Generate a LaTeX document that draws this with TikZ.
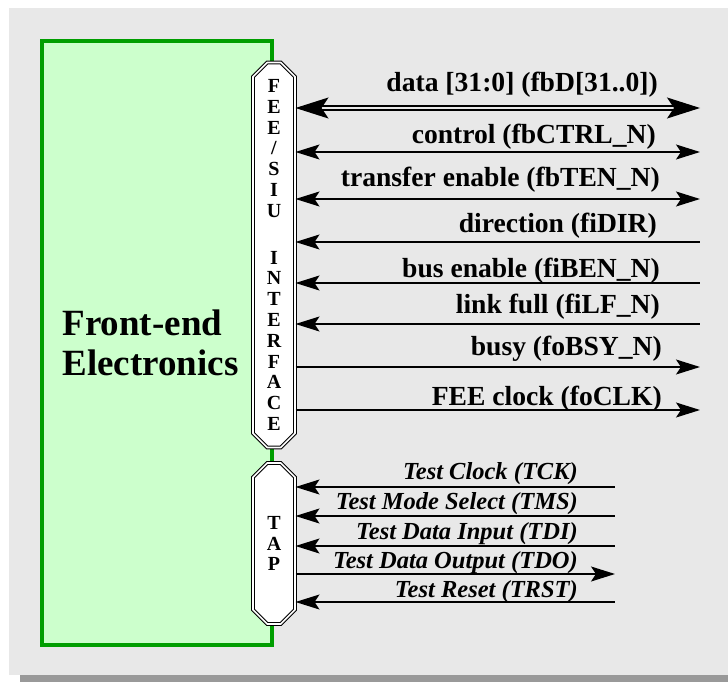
\documentclass[tikz,border=0pt]{standalone}
\usepackage{fontspec}
\setmainfont{Liberation Serif}
\usetikzlibrary{arrows.meta,shapes.misc}
\definecolor{bg}{HTML}{E8E8E8}
\definecolor{shadowc}{HTML}{999999}
\definecolor{feegreen}{HTML}{009E00}
\definecolor{feefill}{HTML}{CCFFCC}
\tikzset{
  ltip/.tip={Stealth[length=24pt,width=15pt,inset=5pt]},
  dtip/.tip={Stealth[length=33pt,width=21pt,inset=7pt]}
}
\begin{document}
\begin{tikzpicture}[x=1pt,y=-1pt,
  febox/.style={draw=feegreen, line width=3.5pt, fill=feefill, minimum width=230pt,
    minimum height=604pt, inner sep=0pt, text width=189pt, align=left,
    font=\fontsize{37}{40}\selectfont\bfseries},
  ifbox/.style={chamfered rectangle, chamfered rectangle xsep=7pt, chamfered rectangle ysep=8pt,
    draw, double=white, double distance=1.6pt, line width=1pt, fill=white,
    minimum width=42pt, inner sep=0pt, align=center,
    font=\fontsize{20}{20.8}\selectfont\bfseries},
  sig/.style={line width=1.3pt, draw=black},
  dsig/.style={line width=1.2pt, draw=black, double=bg, double distance=2.8pt},
  lbl/.style={inner sep=0pt, anchor=base east, font=\fontsize{27.6}{30}\selectfont\bfseries},
  tlbl/.style={inner sep=0pt, anchor=base east, font=\fontsize{24.5}{26}\selectfont\bfseries\itshape}
]
\useasboundingbox (0,0) rectangle (728,682);
\fill[shadowc] (20,15) rectangle (728,682);
\fill[bg] (9,8) rectangle (728,675);

\node[febox] (fe) at (157,343) {Front-end\\Electronics};

\node[ifbox, minimum height=385pt] (fee) at (274,255)
  {F\\E\\E\\/\\S\\I\\U\\[26pt]I\\N\\T\\E\\R\\F\\A\\C\\E};
\node[ifbox, minimum height=161pt] (tap) at (274,543.5) {T\\A\\P};

% main interface signals
\coordinate (dR) at (700,108);
\coordinate (cR) at (700,152);
\coordinate (tR) at (700,199);
\coordinate (dirR) at (700,242);
\coordinate (bR) at (700,283);
\coordinate (lR) at (700,324);
\coordinate (bsR) at (700,367);
\coordinate (ckR) at (700,410);

\draw[dsig, dtip-dtip] (fee.east |- dR) -- (dR);
\draw[sig, ltip-ltip] (fee.east |- cR) -- (cR);
\draw[sig, ltip-ltip] (fee.east |- tR) -- (tR);
\draw[sig, ltip-] (fee.east |- dirR) -- (dirR);
\draw[sig, ltip-] (fee.east |- bR) -- (bR);
\draw[sig, ltip-] (fee.east |- lR) -- (lR);
\draw[sig, -ltip] (fee.east |- bsR) -- (bsR);
\draw[sig, -ltip] (fee.east |- ckR) -- (ckR);

\node[lbl] (ldata) at (658,92) {data [31:0] (fbD[31..0])};
\node[lbl] (lctrl) at (656,143) {control (fbCTRL\_N)};
\node[lbl] (lten) at (660,186) {transfer enable (fbTEN\_N)};
\node[lbl] (ldir) at (657,232) {direction (fiDIR)};
\node[lbl] (lben) at (660,277) {bus enable (fiBEN\_N)};
\node[lbl] (llf) at (660,313) {link full (fiLF\_N)};
\node[lbl] (lbsy) at (662,355) {busy (foBSY\_N)};
\node[lbl] (lclk) at (662,405) {FEE clock (foCLK)};

% TAP signals
\coordinate (tckR) at (615,487);
\coordinate (tmsR) at (615,516);
\coordinate (tdiR) at (615,546);
\coordinate (tdoR) at (615,574);
\coordinate (trsR) at (615,602);
\draw[sig, ltip-] (tap.east |- tckR) -- (tckR);
\draw[sig, ltip-] (tap.east |- tmsR) -- (tmsR);
\draw[sig, ltip-] (tap.east |- tdiR) -- (tdiR);
\draw[sig, -ltip] (tap.east |- tdoR) -- (tdoR);
\draw[sig, ltip-] (tap.east |- trsR) -- (trsR);

\node[tlbl] (ltck) at (578,479) {Test Clock (TCK)};
\node[tlbl] (ltms) at (578,509) {Test Mode Select (TMS)};
\node[tlbl] (ltdi) at (578,539) {Test Data Input (TDI)};
\node[tlbl] (ltdo) at (578,568) {Test Data Output (TDO)};
\node[tlbl] (ltrs) at (578,597) {Test Reset (TRST)};
\end{tikzpicture}
\end{document}
